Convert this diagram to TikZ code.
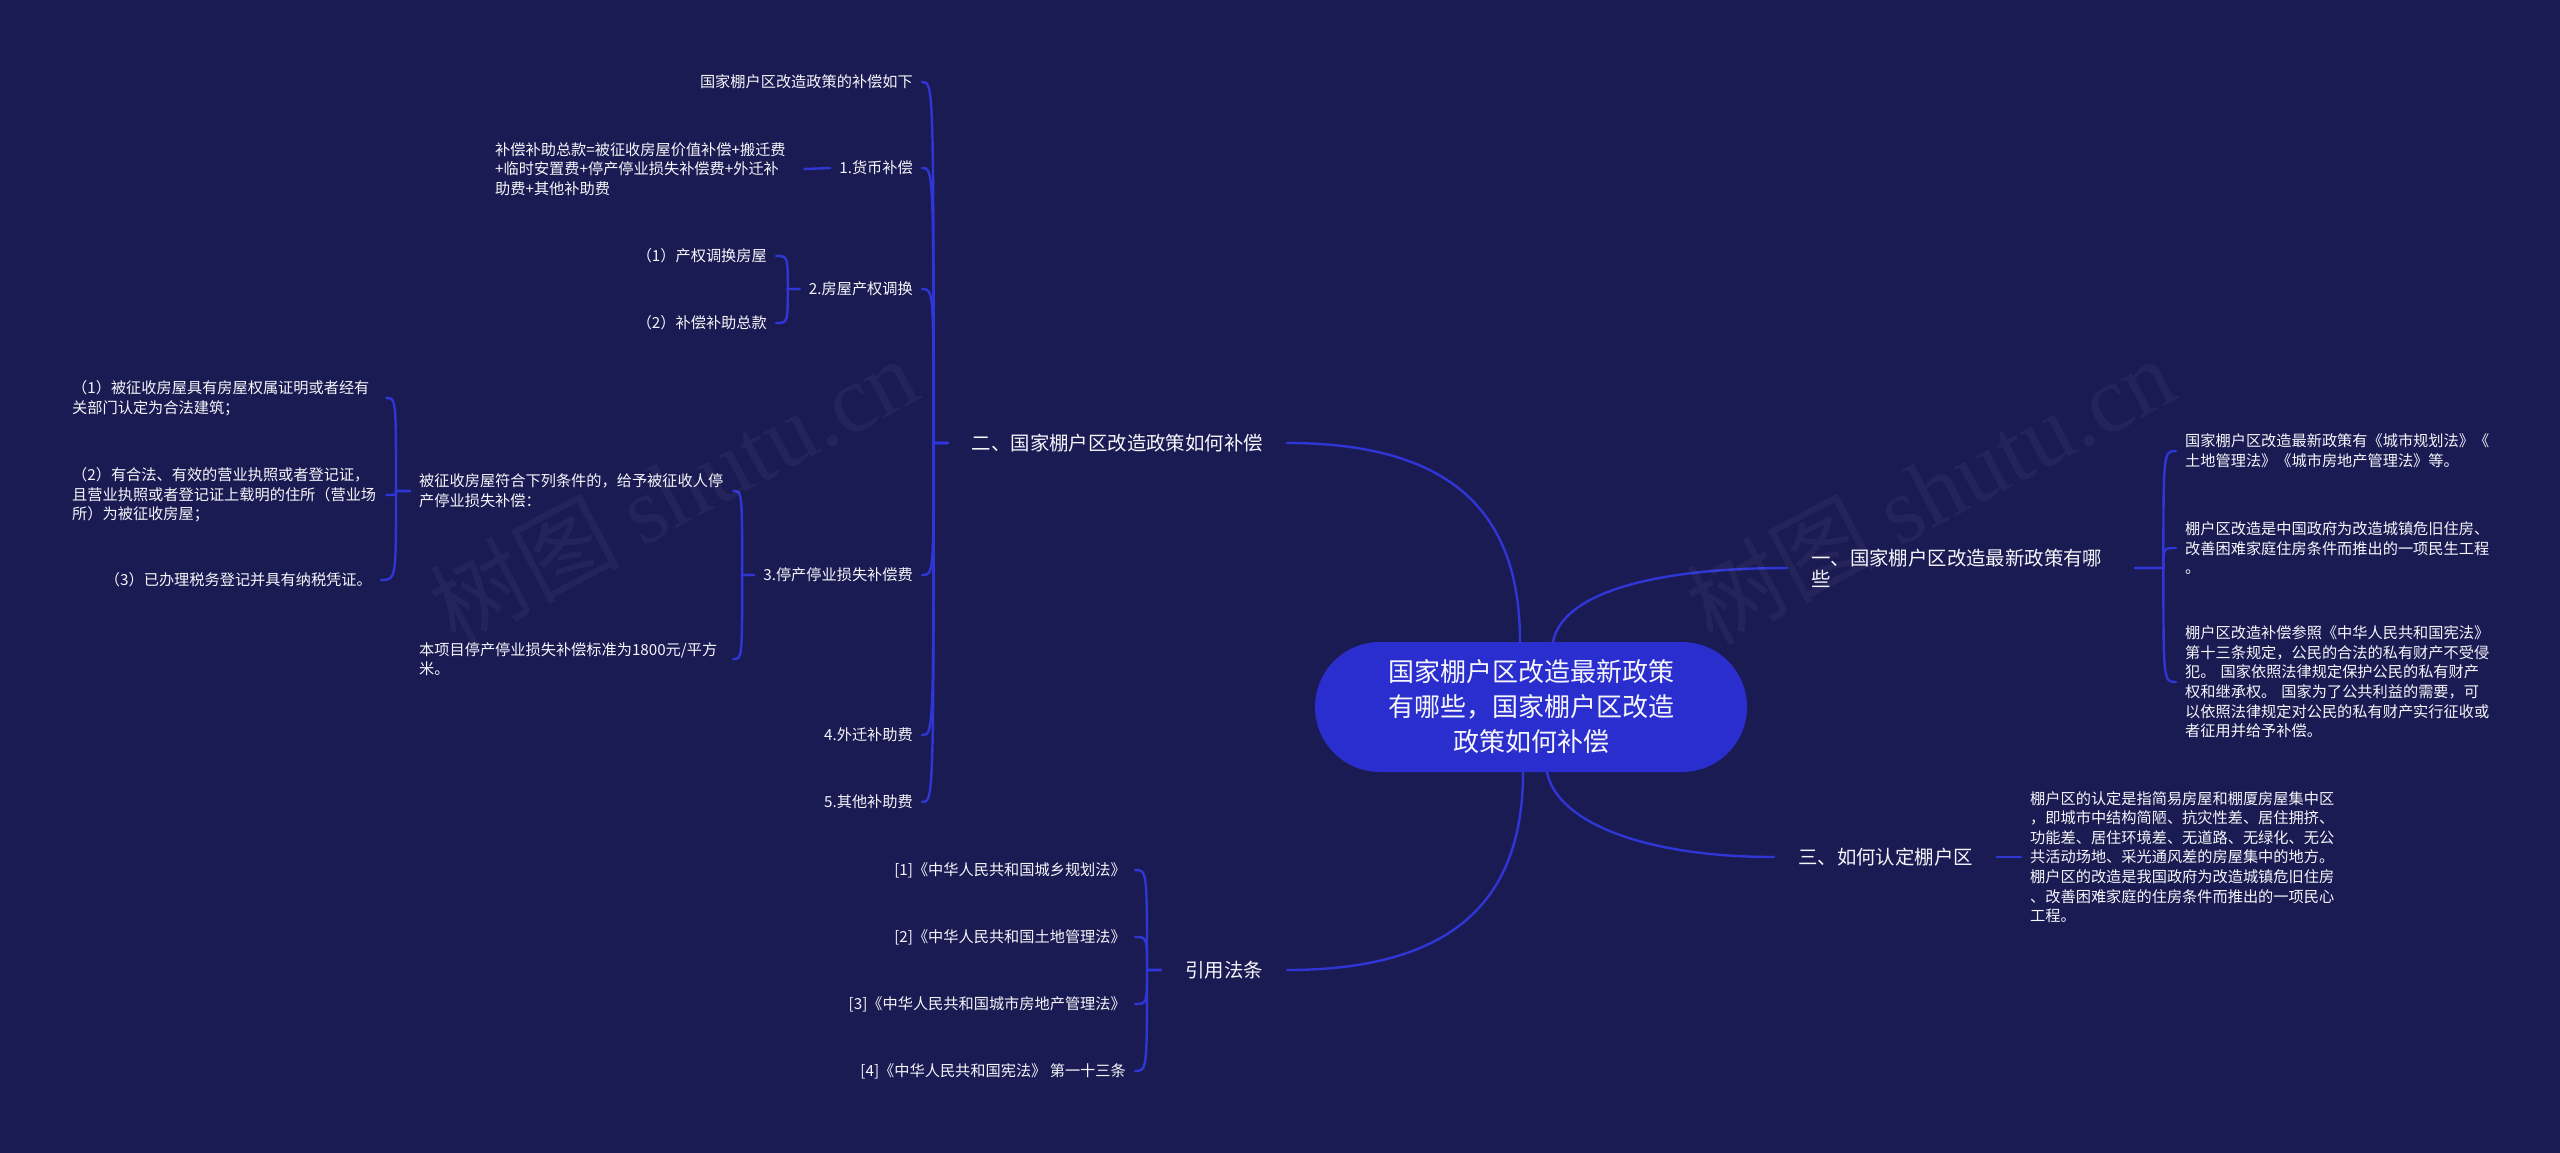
\documentclass[tikz,border=0pt]{standalone}
\usepackage{fontspec}
\setmainfont{Noto Sans CJK SC}
\newfontfamily\wmfont{Liberation Serif}
\usetikzlibrary{calc}
\definecolor{bgc}{RGB}{27,27,83}
\definecolor{lnc}{RGB}{48,53,214}
\definecolor{rootc}{RGB}{42,46,206}
\definecolor{txc}{RGB}{245,245,250}
\begin{document}
\begin{tikzpicture}[x=1pt,y=-1pt,
  conn/.style={draw=lnc, line width=2.4pt, line cap=round},
  rootn/.style={fill=rootc, rounded corners=65pt, minimum width=432pt, minimum height=130pt, inner sep=0pt, align=center, text=txc, font=\fontsize{26}{35}\selectfont},
  lone/.style={inner xsep=24pt, inner ysep=0pt, text=txc, font=\fontsize{19.4}{21}\selectfont},
  ltwo/.style={inner xsep=9pt, inner ysep=0pt, text=txc, font=\fontsize{15.2}{19.6}\selectfont},
  blk/.style={ltwo, align=left, text width=#1},
  wm/.style={text=white, opacity=0.045, font=\fontsize{95}{95}\selectfont, rotate=28},
  lbr/.style={to path={-- ++(-#1,0) .. controls ($(\tikztostart |- \tikztotarget)+(-#1,0)$) .. (\tikztotarget)}},
  rbr/.style={to path={-- ++(#1,0) .. controls ($(\tikztostart |- \tikztotarget)+(#1,0)$) .. (\tikztotarget)}}
]
\fill[bgc] (0,0) rectangle (2560,1153);
\useasboundingbox (0,0) rectangle (2560,1153);

% root
\node[rootn] (root) at (1531,707) {国家棚户区改造最新政策\\有哪些，国家棚户区改造\\政策如何补偿};

% level 1
\node[lone, anchor=east] (b2) at (1287,443) {二、国家棚户区改造政策如何补偿};
\node[lone, anchor=west, text width=300pt, align=left] (b1) at (1787,568) {一、国家棚户区改造最新政策有哪\\些};
\node[lone, anchor=west] (b3) at (1774,857) {三、如何认定棚户区};
\node[lone, anchor=east] (b4) at (1287,970) {引用法条};

% branch 2 children
\node[ltwo, anchor=east] (c0) at (922,82) {国家棚户区改造政策的补偿如下};
\node[ltwo, anchor=east] (c1) at (922,168) {1.货币补偿};
\node[ltwo, anchor=east] (c2) at (922,289) {2.房屋产权调换};
\node[ltwo, anchor=east] (c3) at (922,575) {3.停产停业损失补偿费};
\node[ltwo, anchor=east] (c4) at (922,735) {4.外迁补助费};
\node[ltwo, anchor=east] (c5) at (922,802) {5.其他补助费};

\node[blk=300pt, anchor=west] (d1) at (486,169) {补偿补助总款=被征收房屋价值补偿+搬迁费\\+临时安置费+停产停业损失补偿费+外迁补\\助费+其他补助费};

\node[ltwo, anchor=east] (e1) at (776,256) {（1）产权调换房屋};
\node[ltwo, anchor=east] (e2) at (776,323) {（2）补偿补助总款};

\node[blk=305pt, anchor=west] (f1) at (410,491) {被征收房屋符合下列条件的，给予被征收人停\\产停业损失补偿：};
\node[blk=305pt, anchor=west] (f2) at (410,659) {本项目停产停业损失补偿标准为1800元/平方\\米。};

\node[blk=305pt, anchor=west] (g1) at (63,398) {（1）被征收房屋具有房屋权属证明或者经有\\关部门认定为合法建筑；};
\node[blk=305pt, anchor=west] (g2) at (63,495) {（2）有合法、有效的营业执照或者登记证，\\且营业执照或者登记证上载明的住所（营业场\\所）为被征收房屋；};
\node[ltwo, anchor=east] (g3) at (381,580) {（3）已办理税务登记并具有纳税凭证。};

% branch 1 children
\node[blk=305pt, anchor=west] (h1) at (2176,451) {国家棚户区改造最新政策有《城市规划法》《\\土地管理法》《城市房地产管理法》等。};
\node[blk=305pt, anchor=west] (h2) at (2176,548) {棚户区改造是中国政府为改造城镇危旧住房、\\改善困难家庭住房条件而推出的一项民生工程\\。};
\node[blk=305pt, anchor=west] (h3) at (2176,682) {棚户区改造补偿参照《中华人民共和国宪法》\\第十三条规定，公民的合法的私有财产不受侵\\犯。 国家依照法律规定保护公民的私有财产\\权和继承权。 国家为了公共利益的需要，可\\以依照法律规定对公民的私有财产实行征收或\\者征用并给予补偿。};

% branch 3 child
\node[blk=310pt, anchor=west] (k1) at (2021,857) {棚户区的认定是指简易房屋和棚厦房屋集中区\\，即城市中结构简陋、抗灾性差、居住拥挤、\\功能差、居住环境差、无道路、无绿化、无公\\共活动场地、采光通风差的房屋集中的地方。\\棚户区的改造是我国政府为改造城镇危旧住房\\、改善困难家庭的住房条件而推出的一项民心\\工程。};

% branch 4 children
\node[ltwo, anchor=east] (m1) at (1135,870) {[1]《中华人民共和国城乡规划法》};
\node[ltwo, anchor=east] (m2) at (1135,937) {[2]《中华人民共和国土地管理法》};
\node[ltwo, anchor=east] (m3) at (1135,1004) {[3]《中华人民共和国城市房地产管理法》};
\node[ltwo, anchor=east] (m4) at (1135,1071) {[4]《中华人民共和国宪法》 第一十三条};

% root connectors
\draw[conn] ([xshift=-11pt]root.north) .. controls +(0,-120) and +(175,0) .. (b2.east);
\draw[conn] ([xshift=22pt]root.north) .. controls +(10,-50) and +(-130,0) .. (b1.west);
\draw[conn] ([xshift=16pt]root.south) .. controls +(10,50) and +(-130,0) .. (b3.west);
\draw[conn] ([xshift=-8pt]root.south) .. controls +(0,120) and +(175,0) .. (b4.east);

% branch 2 connectors
\foreach \c in {c0,c1,c2,c3,c4,c5} \draw[conn] (b2.west) to[lbr=14] (\c.east);
\draw[conn] (c1.west) -- (d1.east);
\foreach \c in {e1,e2} \draw[conn] (c2.west) to[lbr=12] (\c.east);
\foreach \c in {f1,f2} \draw[conn] (c3.west) to[lbr=12] (\c.east);
\foreach \c in {g1,g2,g3} \draw[conn] (f1.west) to[lbr=14] (\c.east);

% branch 1 connectors
\foreach \c in {h1,h2,h3} \draw[conn] (b1.east) to[rbr=28] (\c.west);
% branch 3
\draw[conn] (b3.east) -- (k1.west);
% branch 4
\foreach \c in {m1,m2,m3,m4} \draw[conn] (b4.west) to[lbr=14] (\c.east);

% watermark
\node[wm] (wm1) at (673,490) {树图 {\wmfont shutu.cn}};
\node[wm] (wm2) at (1930,490) {树图 {\wmfont shutu.cn}};
\end{tikzpicture}
\end{document}
